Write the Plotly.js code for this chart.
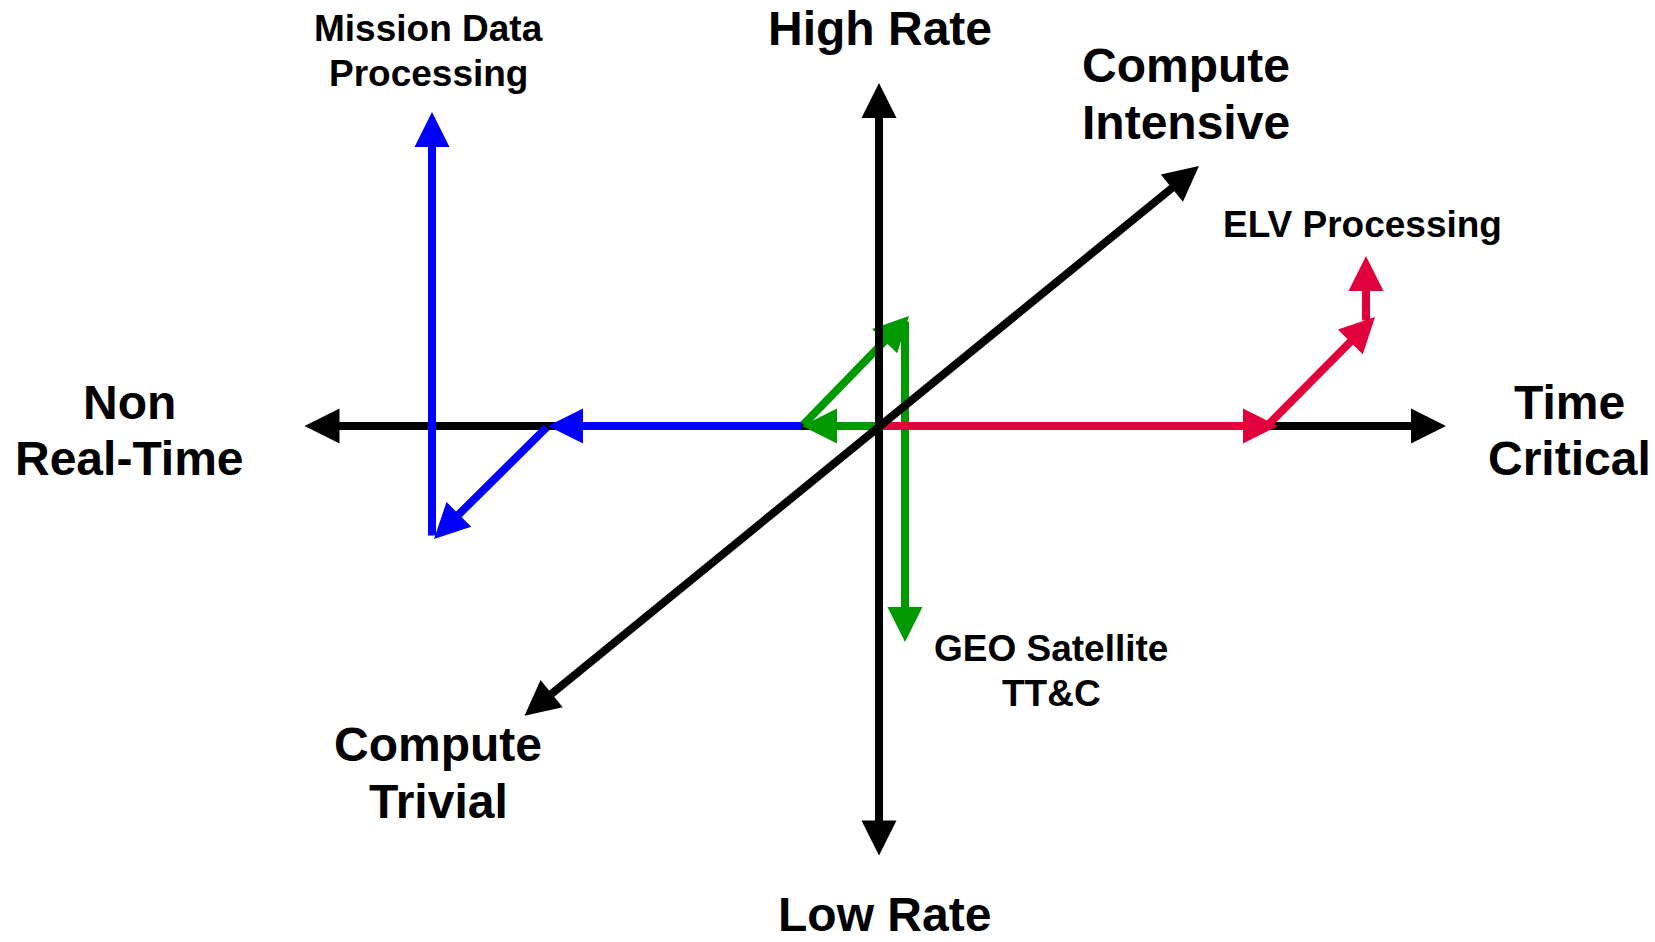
<!DOCTYPE html>
<html>
<head>
<meta charset="utf-8">
<script src="https://cdn.plot.ly/plotly-3.0.1.min.js"></script>
<style>html,body{margin:0;padding:0;background:#fff;}#chart{width:1655px;height:942px;}</style>
</head>
<body>
<div id="chart"></div>
<script>
// ---- Data (diagram units, origin at the axes crossing, y up) ----
// Black reference axes: [Timeliness (horizontal), Rate (vertical), Compute (diagonal)]
const axisNames   = ['Timeliness', 'Rate', 'Compute'];
const axisStartX  = [-576,    0, -356];
const axisStartY  = [   0, -431, -291];
const axisEndX    = [ 567,    0,  320];
const axisEndY    = [   0,  343,  260];
const axisEndLabels   = ['Time|Critical', 'High Rate', 'Compute|Intensive'];
const axisStartLabels = ['Non|Real-Time', 'Low Rate', 'Compute|Trivial'];

// Mission Data Processing vectors (blue)
const missionFromX = [ -76, -331, -447];
const missionFromY = [   0,    0, -111];
const missionToX   = [-331, -445, -447];
const missionToY   = [   0, -113,  314];

// GEO Satellite TT&C vectors (green)
const geoFromX = [  0, -77,   26];
const geoFromY = [  0,   0,  106];
const geoToX   = [-77,  30,   26];
const geoToY   = [  0, 110, -216];

// ELV Processing vectors (red)
const elvFromX = [  0, 388, 487];
const elvFromY = [  0,   0, 104];
const elvToX   = [399, 496, 487];
const elvToY   = [  0, 109, 170];

const seriesLabels = ['Mission Data|Processing', 'GEO Satellite|TT&C', 'ELV Processing'];

// ---- Styles / layout ----
const BLACK = '#000000', BLUE = '#0000FF', GREEN = '#009900', RED = '#E2003C';
const LINE_W = 8;
const HEAD = {arrowhead: 2, arrowsize: 0.875};
const FONT_FAMILY = 'Arial, "Liberation Sans", "DejaVu Sans", sans-serif';

const annotations = [];

function segment(x0, y0, x1, y1, color, side) {
  annotations.push({
    xref: 'x', yref: 'y', axref: 'x', ayref: 'y',
    x: x1, y: y1, ax: x0, ay: y0,
    text: '', font: {size: 1},
    showarrow: true, arrowside: side,
    arrowhead: HEAD.arrowhead, startarrowhead: HEAD.arrowhead,
    arrowsize: HEAD.arrowsize, startarrowsize: HEAD.arrowsize,
    arrowwidth: LINE_W, arrowcolor: color,
    standoff: 0, startstandoff: 0
  });
}
function series(fx, fy, tx, ty, color) {
  for (let i = 0; i < fx.length; i++) segment(fx[i], fy[i], tx[i], ty[i], color, 'end');
}
function axis(i) {
  segment(axisStartX[i], axisStartY[i], axisEndX[i], axisEndY[i], BLACK, 'end+start');
}

// drawing order (later = on top)
axis(0);
series(missionFromX, missionFromY, missionToX, missionToY, BLUE);
series(geoFromX, geoFromY, geoToX, geoToY, GREEN);
series(elvFromX, elvFromY, elvToX, elvToY, RED);
axis(1);
axis(2);

// text labels: [text, x, y, fontSize, lineGap] (positions in diagram units)
const BIG = 48, SMALL = 37;
const labelPlacement = [
  [axisEndLabels[0],   690,  23.5, BIG,   56],
  [axisStartLabels[0], -750, 23.5, BIG,   56],
  [axisEndLabels[1],   1,    398,  BIG,   56],
  [axisStartLabels[1], 5,   -488,  BIG,   56],
  [axisEndLabels[2],   307,  360.5, BIG,  57],
  [axisStartLabels[2], -441, -318, BIG,   57],
  [seriesLabels[0],   -450.5, 398, SMALL, 45.5],
  [seriesLabels[1],    172, -222,  SMALL, 45],
  [seriesLabels[2],    483.6, 201.5, SMALL, 45]
];
labelPlacement.forEach(([txt, x, y, size, gap]) => {
  txt.split('|').forEach((line, k) => {
    annotations.push({
      xref: 'x', yref: 'y', x: x, y: y - k * gap,
      text: line, showarrow: false,
      xanchor: 'center', yanchor: 'middle',
      font: {family: FONT_FAMILY, size: size, color: BLACK, weight: 700}
    });
  });
});

const layout = {
  width: 1655, height: 942,
  margin: {l: 0, r: 0, t: 0, b: 0, pad: 0},
  paper_bgcolor: '#ffffff', plot_bgcolor: '#ffffff',
  showlegend: false,
  xaxis: {range: [-879, 776], visible: false, fixedrange: true},
  yaxis: {range: [-516, 426], visible: false, fixedrange: true},
  annotations: annotations
};

const traces = [{
  type: 'scatter', mode: 'markers',
  x: [0], y: [0], marker: {size: 1, color: 'rgba(0,0,0,0)'},
  hoverinfo: 'skip', showlegend: false
}];

Plotly.newPlot('chart', traces, layout, {staticPlot: true, displayModeBar: false});
</script>
</body>
</html>
